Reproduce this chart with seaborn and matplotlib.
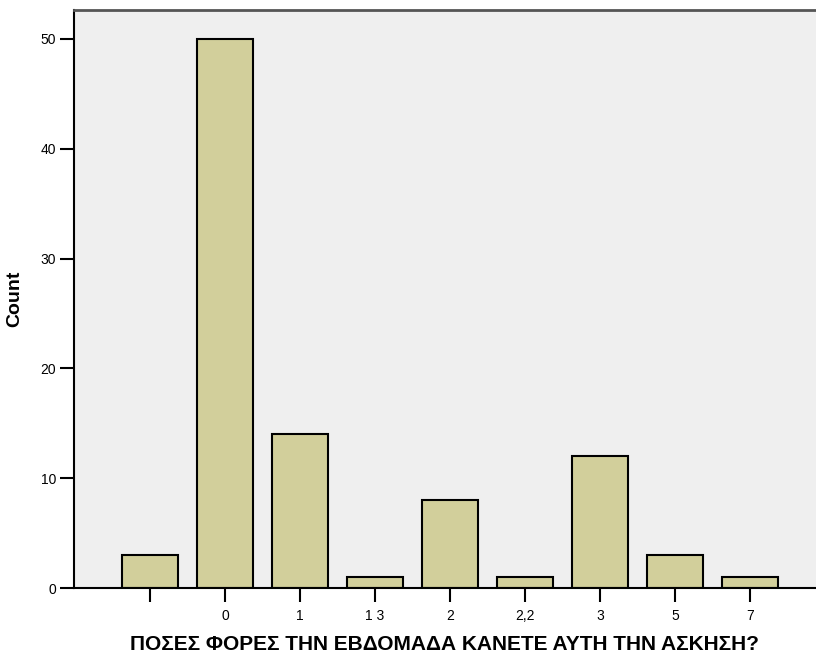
import matplotlib
matplotlib.use('Agg')
import matplotlib.pyplot as plt
import seaborn as sns
import pandas as pd

# answers as they appear on the axis (first one is blank)
categories = ['', '0', '1', '1 3', '2', '2,2', '3', '5', '7']
counts = [3, 50, 14, 1, 8, 1, 12, 3, 1]
y_ticks = [0, 10, 20, 30, 40, 50]

df = pd.DataFrame({'answer': categories, 'count': counts})

sns.set_style('white')
plt.rcParams['font.family'] = ['Liberation Sans', 'DejaVu Sans']
plt.rcParams['text.color'] = 'black'
plt.rcParams['axes.labelcolor'] = 'black'
plt.rcParams['xtick.color'] = 'black'
plt.rcParams['ytick.color'] = 'black'

fig = plt.figure(figsize=(8.16, 6.56), dpi=100)
ax = fig.add_axes([74 / 816, 68 / 656, 742 / 816, 578 / 656])
ax.set_facecolor('#efefef')

sns.barplot(data=df, x='answer', y='count', order=categories,
            color='#d2cf9b', edgecolor='black', linewidth=1.5,
            width=0.75, saturation=1, ax=ax)

ax.set_xlim(-1.013, 8.88)
ax.set_ylim(0, 52.64)
ax.set_yticks(y_ticks)

ax.spines['right'].set_visible(False)
ax.spines['top'].set_color('#555555')
ax.spines['top'].set_linewidth(2)
for side in ['left', 'bottom']:
    ax.spines[side].set_color('black')
    ax.spines[side].set_linewidth(1.5)

ax.tick_params(axis='both', direction='out', length=10, width=1.5,
               color='black', labelcolor='black', labelsize=10,
               bottom=True, left=True)
ax.tick_params(axis='x', pad=5)
ax.tick_params(axis='y', pad=3)

ax.set_xlabel('ΠΟΣΕΣ ΦΟΡΕΣ ΤΗΝ ΕΒΔΟΜΑΔΑ ΚΑΝΕΤΕ ΑΥΤΗ ΤΗΝ ΑΣΚΗΣΗ?',
              fontsize=15, fontweight='bold', labelpad=9)
ax.set_ylabel('Count', fontsize=14, fontweight='bold', labelpad=12)

plt.savefig('out.png', dpi=100)
plt.close()
